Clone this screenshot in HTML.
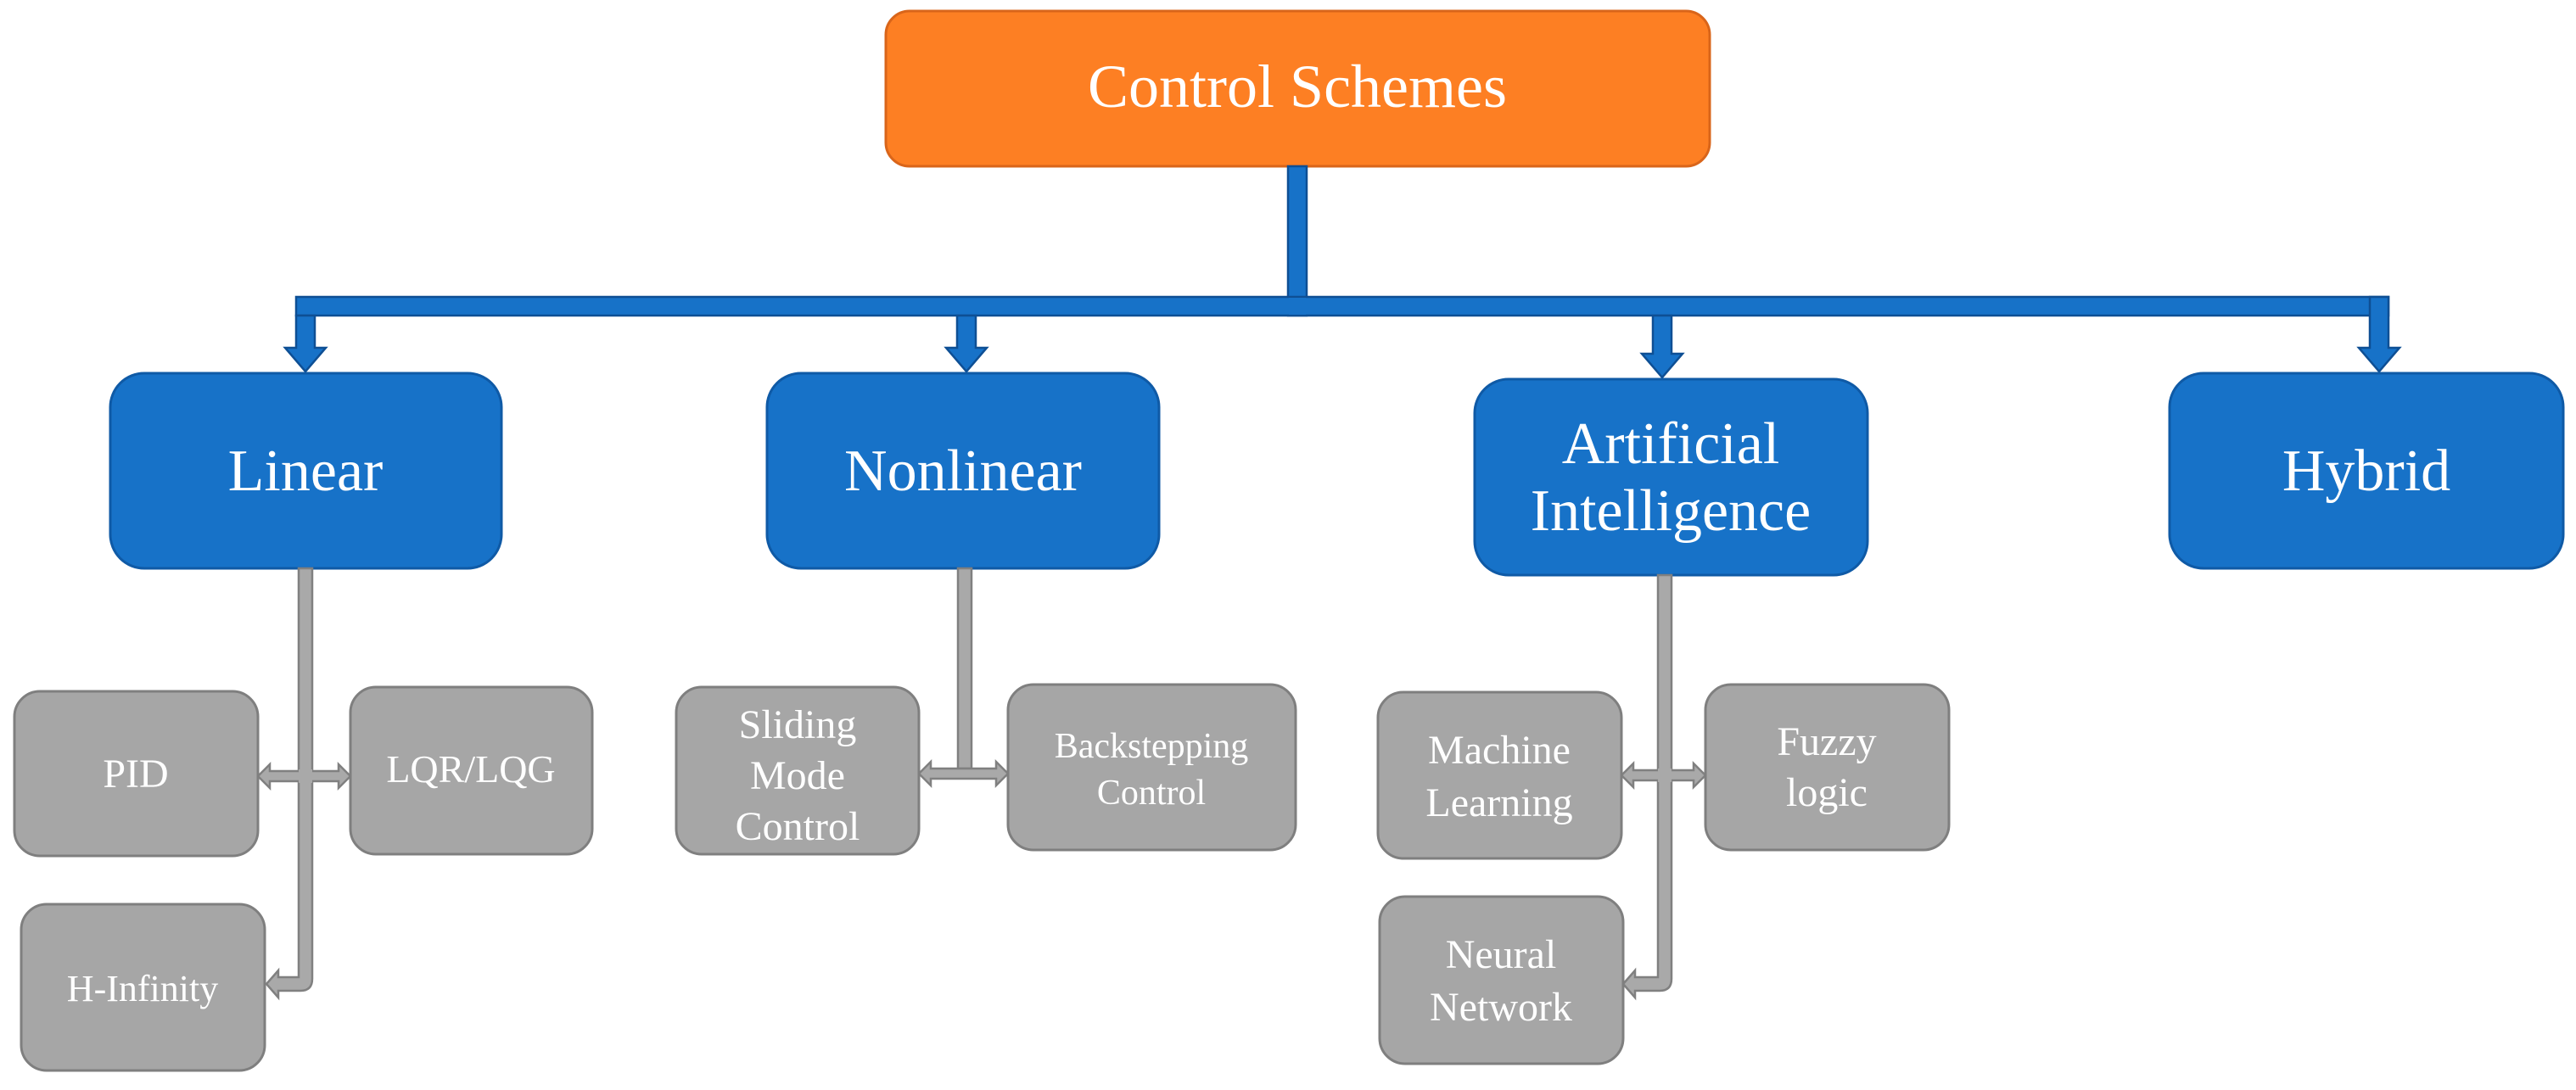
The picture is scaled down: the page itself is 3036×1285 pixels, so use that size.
<!DOCTYPE html>
<html><head><meta charset="utf-8"><style>
html,body{margin:0;padding:0;background:#fff;}
svg{display:block;}
text{font-family:"Liberation Serif",serif;fill:#fff;text-anchor:middle;}
</style></head><body>
<svg width="3036" height="1285" viewBox="0 0 3036 1285" xmlns="http://www.w3.org/2000/svg">
<!-- Orange root -->
<rect x="1044" y="13" width="971" height="183" rx="28" fill="#fd7f23" stroke="#d9651a" stroke-width="3"/>
<text x="1529" y="126" font-size="72">Control Schemes</text>

<!-- Blue connectors -->
<g fill="#1772c8" stroke="#0e4f94" stroke-width="2.5">
<rect x="1518" y="196" width="22" height="176"/>
<rect x="349" y="350" width="2466" height="22"/>
<path d="M349,372 h22 v38 h13 l-24,28 l-24,-28 h13 z"/>
<path d="M1128,372 h22 v38 h13 l-24,28 l-24,-28 h13 z"/>
<path d="M1948,372 h22 v45 h13 l-24,28 l-24,-28 h13 z"/>
<path d="M2793,350 h22 v60 h13 l-24,28 l-24,-28 h13 v-38 z"/>
</g>
<rect x="1519" y="351" width="20" height="20" fill="#1772c8"/>

<!-- Blue boxes -->
<g fill="#1772c8" stroke="#0f5aa6" stroke-width="3">
<rect x="130" y="440" width="461" height="230" rx="40"/>
<rect x="904" y="440" width="462" height="230" rx="40"/>
<rect x="1738" y="447" width="463" height="231" rx="40"/>
<rect x="2557" y="440" width="464" height="230" rx="40"/>
</g>
<text x="360" y="578" font-size="70">Linear</text>
<text x="1135" y="578" font-size="70">Nonlinear</text>
<text x="1969" y="546" font-size="70">Artificial</text>
<text x="1969" y="625" font-size="70">Intelligence</text>
<text x="2789" y="578" font-size="70">Hybrid</text>

<!-- Gray connectors -->
<g fill="#a9a9a9" stroke="#808080" stroke-width="2.5">
<path d="M352,670 h16 v484 q0,14 -14,14 h-26 v8 l-14,-16 l14,-16 v8 h24 v-482 z"/>
<path d="M318,909 h81 v-8 l14,14 l-14,14 v-8 h-81 v8 l-14,-14 l14,-14 z"/>
<rect x="352" y="907" width="16" height="16" fill="#a9a9a9" stroke="none"/>
<rect x="1129" y="670" width="16" height="236"/>
<path d="M1097,906 h77 v-8 l14,14 l-14,14 v-8 h-77 v8 l-14,-14 l14,-14 z"/>
<path d="M1954,678 h16 v476 q0,14 -14,14 h-29 v8 l-14,-16 l14,-16 v8 h27 v-474 z"/>
<path d="M1925,908 h71 v-8 l14,14 l-14,14 v-8 h-71 v8 l-14,-14 l14,-14 z"/>
<rect x="1954" y="906" width="16" height="16" fill="#a9a9a9" stroke="none"/>
</g>

<!-- Gray boxes -->
<g fill="#a6a6a6" stroke="#7f7f7f" stroke-width="3">
<rect x="17" y="815" width="287" height="194" rx="30"/>
<rect x="413" y="810" width="285" height="197" rx="30"/>
<rect x="25" y="1066" width="287" height="196" rx="30"/>
<rect x="797" y="810" width="286" height="197" rx="30"/>
<rect x="1188" y="807" width="339" height="195" rx="30"/>
<rect x="1624" y="816" width="287" height="196" rx="30"/>
<rect x="2010" y="807" width="287" height="195" rx="30"/>
<rect x="1626" y="1057" width="287" height="197" rx="30"/>
</g>
<text x="160" y="928" font-size="48">PID</text>
<text x="555" y="922" font-size="46">LQR/LQG</text>
<text x="168" y="1180" font-size="44">H-Infinity</text>
<text x="940" y="870" font-size="48">Sliding</text>
<text x="940" y="930" font-size="48">Mode</text>
<text x="940" y="990" font-size="48">Control</text>
<text x="1357" y="893" font-size="42">Backstepping</text>
<text x="1357" y="948" font-size="42">Control</text>
<text x="1767" y="900" font-size="48">Machine</text>
<text x="1767" y="962" font-size="48">Learning</text>
<text x="2153" y="890" font-size="48">Fuzzy</text>
<text x="2153" y="950" font-size="48">logic</text>
<text x="1769" y="1141" font-size="48">Neural</text>
<text x="1769" y="1203" font-size="48">Network</text>
</svg>
</body></html>
